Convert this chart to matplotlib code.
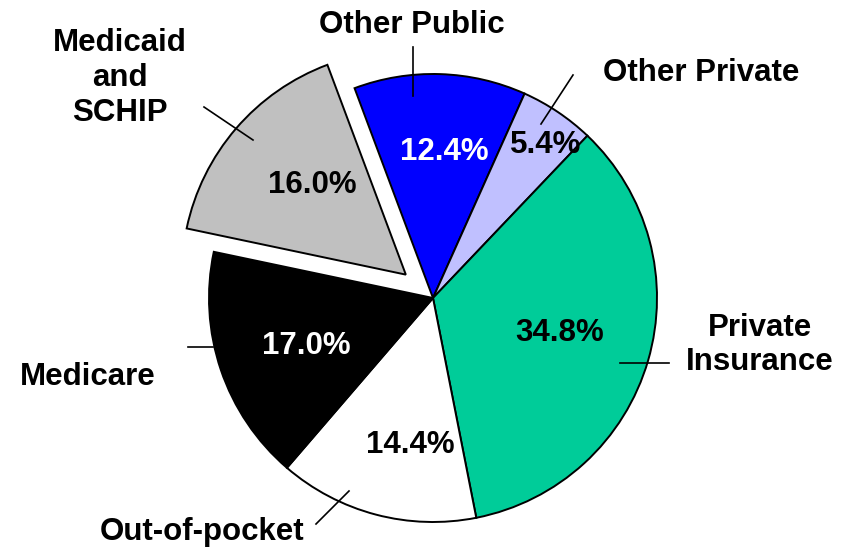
import matplotlib.pyplot as plt

# slice data, clockwise from the top-left
labels = ["Other Public", "Other Private", "Private\nInsurance", "Out-of-pocket", "Medicare", "Medicaid\nand\nSCHIP"]
shares = [12.4, 5.4, 34.8, 14.4, 17.0, 16.0]
colors = ["#0000ff", "#c0c0ff", "#00cc99", "#ffffff", "#000000", "#c0c0c0"]
pct_colors = ["white", "black", "black", "black", "white", "black"]
explode_frac = [0, 0, 0, 0, 0, 0.16]

H = 551  # figure height in px, text positions below are measured from the top
center = (433, H - 298)
radius = 224

# label text positions (px from top-left)
label_pos = [(412, 25), (701, 73), (760, 345), (202, 532), (88, 377), (120, 78)]
pct_pos = [(444, 152), (546, 145), (560, 333), (410, 445), (306, 346), (312, 185)]
# leader lines: (x0, y0, x1, y1)
leaders = [(413, 47, 413, 96), (573, 75, 541, 124), (620, 363, 669, 363),
           (316, 524, 349, 491), (188, 347, 213, 347), (204, 107, 253, 140)]

plt.rcParams['font.family'] = ['Liberation Sans', 'DejaVu Sans']

fig = plt.figure(figsize=(8.5, 5.51), dpi=100)
ax = fig.add_axes([0, 0, 1, 1])

# pie explode is in data units, so scale by the radius
ax.pie(shares, colors=colors, explode=[e * radius for e in explode_frac],
       startangle=110.5, counterclock=False,
       center=center, radius=radius, frame=True,
       wedgeprops=dict(edgecolor='black', linewidth=1.4))
ax.set_xlim(0, 850)
ax.set_ylim(0, H)
ax.set_aspect('equal')
ax.axis('off')

for lab, (x, y) in zip(labels, label_pos):
    ax.text(x, H - y, lab, ha='center', va='center', fontsize=22.5,
            fontweight='bold', linespacing=1.2)

for val, col, (x, y) in zip(shares, pct_colors, pct_pos):
    ax.text(x, H - y, f"{val:.1f}%", ha='center', va='center', fontsize=22.5,
            fontweight='bold', color=col)

for x0, y0, x1, y1 in leaders:
    ax.plot([x0, x1], [H - y0, H - y1], color='black', linewidth=1.2)

fig.savefig("out.png", dpi=100)
